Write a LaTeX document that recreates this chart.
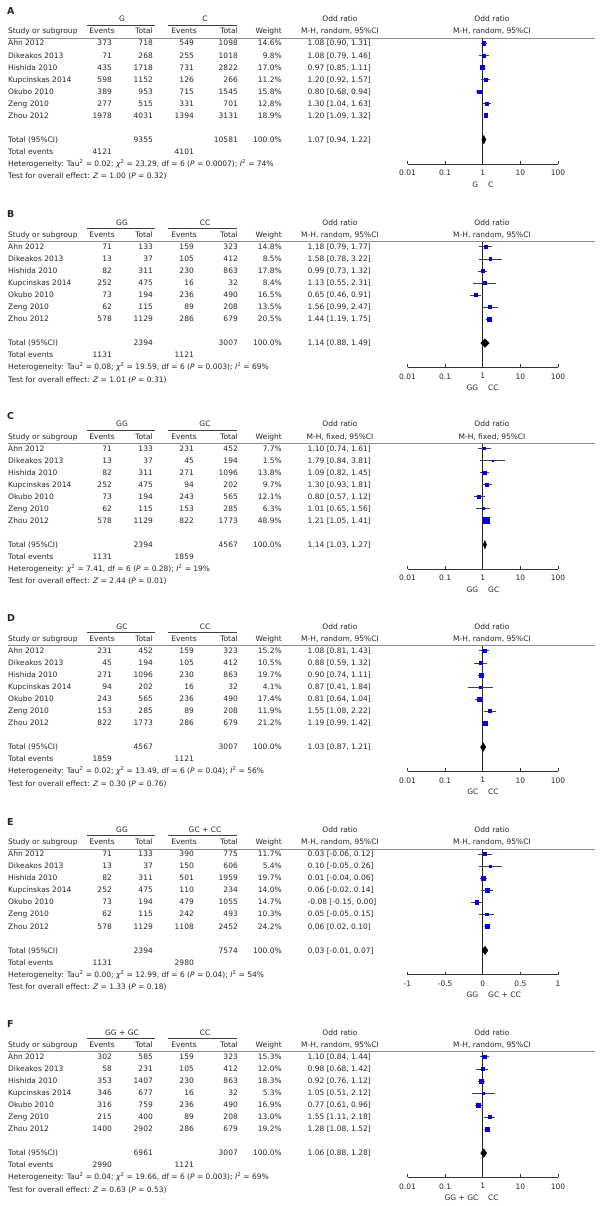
\documentclass[border=0pt]{standalone}
\usepackage{pgfplots}
\pgfplotsset{compat=1.18}
\usepackage{pgfplotstable}
\usepackage{fontspec}
\setmainfont{DejaVu Sans}

\definecolor{sq}{HTML}{0000E6}
\definecolor{cil}{HTML}{404040}
\definecolor{hline}{HTML}{8C8C8C}
\newcommand\fs{\fontsize{7.5}{8}\selectfont}

\pgfplotstableread{
k or lo hi w
0 1.08 0.90 1.31 14.6
1 1.08 0.79 1.46 9.8
2 0.97 0.85 1.11 17.0
3 1.20 0.92 1.57 11.2
4 0.80 0.68 0.94 15.8
5 1.30 1.04 1.63 12.8
6 1.20 1.09 1.32 18.9
}\tabA
\pgfplotstableread{
k or lo hi w
0 1.18 0.79 1.77 14.8
1 1.58 0.78 3.22 8.5
2 0.99 0.73 1.32 17.8
3 1.13 0.55 2.31 8.4
4 0.65 0.46 0.91 16.5
5 1.56 0.99 2.47 13.5
6 1.44 1.19 1.75 20.5
}\tabB
\pgfplotstableread{
k or lo hi w
0 1.10 0.74 1.61 7.7
1 1.79 0.84 3.81 1.5
2 1.09 0.82 1.45 13.8
3 1.30 0.93 1.81 9.7
4 0.80 0.57 1.12 12.1
5 1.01 0.65 1.56 6.3
6 1.21 1.05 1.41 48.9
}\tabC
\pgfplotstableread{
k or lo hi w
0 1.08 0.81 1.43 15.2
1 0.88 0.59 1.32 10.5
2 0.90 0.74 1.11 19.7
3 0.87 0.41 1.84 4.1
4 0.81 0.64 1.04 17.4
5 1.55 1.08 2.22 11.9
6 1.19 0.99 1.42 21.2
}\tabD
\pgfplotstableread{
k or lo hi w
0 0.03 -0.06 0.12 11.7
1 0.10 -0.05 0.26 5.4
2 0.01 -0.04 0.06 19.7
3 0.06 -0.02 0.14 14.0
4 -0.08 -0.15 0.00 14.7
5 0.05 -0.05 0.15 10.3
6 0.06 0.02 0.10 24.2
}\tabE
\pgfplotstableread{
k or lo hi w
0 1.10 0.84 1.44 15.3
1 0.98 0.68 1.42 12.0
2 0.92 0.76 1.12 18.3
3 1.05 0.51 2.12 5.3
4 0.77 0.61 0.96 16.9
5 1.55 1.11 2.18 13.0
6 1.28 1.08 1.52 19.2
}\tabF

\pgfplotsset{
 fpbase/.style={
  anchor=south west, scale only axis, width=150.5pt, height=125.5pt,
  ymin=-10.02, ymax=0.4, axis x line*=bottom, axis y line=none,
  tick align=inside, major tick length=3pt, xminorticks=false,
  x axis line style={color=black!80, line width=0.6pt},
  every tick/.style={black!80, line width=0.6pt},
  xticklabel style={font=\fs, text=black!85, yshift=-2.5pt},
  clip=false,
 },
}

% #1 environment, #2 tick options, #3 reference x, #4 table, #5 CI coords, #6 diamond, #7 panel offset
\newcommand\fplot[7]{%
\pgfmathsetmacro\fpy{-(#7+164)}%
\begin{#1}[fpbase, #2, at={(407.5pt,\fpy pt)}]
 \addplot[black!85, line width=0.6pt] coordinates {(#3,0.4) (#3,-10.02)};
 \addplot[cil, line width=0.5pt, unbounded coords=jump] coordinates {#5};
 \addplot[only marks, mark=square*, scatter,
   scatter/use mapped color={draw=sq, fill=sq},
   visualization depends on={0.44*sqrt(\thisrow{w})\as\msz},
   scatter/@pre marker code/.append style={/tikz/mark size=\msz, /tikz/line width=0.1pt}]
   table[x=or, y expr=-\thisrow{k}] {#4};
 \addplot[fill=black, draw=black, line width=0.3pt] coordinates {#6};
\end{#1}}

\newcommand\panelhead[4]{%
 \node[T, anchor=west, font=\bfseries\fontsize{9.5}{10}\selectfont, text height=7pt] at (7,-11) {#1};
 \node[T] at (122,-19.2) {#2};
 \node[T] at (205,-19.2) {#3};
 \draw[black!75, line width=0.5pt] (87,-25)--(155,-25) (168,-25)--(237,-25);
 \node[T, anchor=west] at (8,-31.3) {Study or subgroup};
 \node[T, anchor=east] at (115,-31.3) {Events};
 \node[T, anchor=east] at (153,-31.3) {Total};
 \node[T, anchor=east] at (197,-31.3) {Events};
 \node[T, anchor=east] at (238,-31.3) {Total};
 \node[T, anchor=east] at (282,-31.3) {Weight};
 \node[T] at (340,-19.2) {Odd ratio};
 \node[T] at (340,-31.3) {M-H, #4, 95\%CI};
 \node[T] at (492,-19.2) {Odd ratio};
 \node[T] at (492,-31.3) {M-H, #4, 95\%CI};
 \draw[hline, line width=0.9pt] (8,-38.5)--(595,-38.5);
}

\newcommand\studyrows[1]{%
 \foreach \nm/\ea/\ta/\eb/\tb/\w/\ci [count=\k from 0] in {#1}{%
  \pgfmathsetmacro\yy{-(43.3+12.05*\k)}
  \node[T, anchor=west] at (8,\yy) {\nm};
  \node[T, anchor=east] at (112,\yy) {\ea};
  \node[T, anchor=east] at (153,\yy) {\ta};
  \node[T, anchor=east] at (194,\yy) {\eb};
  \node[T, anchor=east] at (238,\yy) {\tb};
  \node[T, anchor=east] at (282,\yy) {\w\%};
  \node[T, anchor=west] at (307.5,\yy) {\ci};
 }}

\newcommand\paneltot[7]{%
 \node[T, anchor=west] at (8,-139.7) {Total (95\%CI)};
 \node[T, anchor=east] at (153,-139.7) {#1};
 \node[T, anchor=east] at (238,-139.7) {#2};
 \node[T, anchor=east] at (282,-139.7) {100.0\%};
 \node[T, anchor=west] at (307.5,-139.7) {#3};
 \node[T, anchor=west] at (8,-151.8) {Total events};
 \node[T, anchor=east] at (112,-151.8) {#4};
 \node[T, anchor=east] at (194,-151.8) {#5};
 \node[T, anchor=west] at (8,-163.8) {#6};
 \node[T, anchor=west] at (8,-175.9) {#7};
}
\newcommand\favours[2]{%
 \node[T, anchor=east] at (478.5,-184.5) {#1};
 \node[T, anchor=west] at (488,-184.5) {#2};
}
\newcommand\chisq{{\itshape χ}\textsuperscript{2}}
\newcommand\Isq{{\itshape I}\textsuperscript{2}}
\newcommand\Pv{{\itshape P}}
\newcommand\Zv{{\itshape Z}}

\begin{document}
\begin{tikzpicture}[x=1pt,y=1pt,
  T/.style={font=\fs, inner sep=0pt, text=black!85, text height=5.4pt, text depth=0pt}]
\fill[white] (0,0) rectangle (600,-1206);
\useasboundingbox (0,0) rectangle (600,-1206);

% ---------------- A
\begin{scope}[yshift=0pt]
\panelhead{A}{G}{C}{random}
\studyrows{Ahn 2012/373/718/549/1098/14.6/{1.08 [0.90, 1.31]},
 Dikeakos 2013/71/268/255/1018/9.8/{1.08 [0.79, 1.46]},
 Hishida 2010/435/1718/731/2822/17.0/{0.97 [0.85, 1.11]},
 Kupcinskas 2014/598/1152/126/266/11.2/{1.20 [0.92, 1.57]},
 Okubo 2010/389/953/715/1545/15.8/{0.80 [0.68, 0.94]},
 Zeng 2010/277/515/331/701/12.8/{1.30 [1.04, 1.63]},
 Zhou 2012/1978/4031/1394/3131/18.9/{1.20 [1.09, 1.32]}}
\paneltot{9355}{10581}{1.07 [0.94, 1.22]}{4121}{4101}
 {Heterogeneity: Tau\textsuperscript{2} = 0.02; \chisq{} = 23.29, df = 6 (\Pv{} = 0.0007); \Isq{} = 74\%}
 {Test for overall effect: \Zv{} = 1.00 (\Pv{} = 0.32)}
\favours{G}{C}
\end{scope}
\fplot{semilogxaxis}{xmin=0.01, xmax=100, xtick={0.01,0.1,1,10,100}, xticklabels={0.01,0.1,1,10,100}}{1}{\tabA}{(0.90,0)(1.31,0)(nan,nan)(0.79,-1)(1.46,-1)(nan,nan)(0.85,-2)(1.11,-2)(nan,nan)(0.92,-3)(1.57,-3)(nan,nan)(0.68,-4)(0.94,-4)(nan,nan)(1.04,-5)(1.63,-5)(nan,nan)(1.09,-6)(1.32,-6)}{(0.94,-8)(1.07,-7.64)(1.22,-8)(1.07,-8.36)(0.94,-8)}{0}

% ---------------- B
\begin{scope}[yshift=-203.4pt]
\panelhead{B}{GG}{CC}{random}
\studyrows{Ahn 2012/71/133/159/323/14.8/{1.18 [0.79, 1.77]},
 Dikeakos 2013/13/37/105/412/8.5/{1.58 [0.78, 3.22]},
 Hishida 2010/82/311/230/863/17.8/{0.99 [0.73, 1.32]},
 Kupcinskas 2014/252/475/16/32/8.4/{1.13 [0.55, 2.31]},
 Okubo 2010/73/194/236/490/16.5/{0.65 [0.46, 0.91]},
 Zeng 2010/62/115/89/208/13.5/{1.56 [0.99, 2.47]},
 Zhou 2012/578/1129/286/679/20.5/{1.44 [1.19, 1.75]}}
\paneltot{2394}{3007}{1.14 [0.88, 1.49]}{1131}{1121}
 {Heterogeneity: Tau\textsuperscript{2} = 0.08; \chisq{} = 19.59, df = 6 (\Pv{} = 0.003); \Isq{} = 69\%}
 {Test for overall effect: \Zv{} = 1.01 (\Pv{} = 0.31)}
\favours{GG}{CC}
\end{scope}
\fplot{semilogxaxis}{xmin=0.01, xmax=100, xtick={0.01,0.1,1,10,100}, xticklabels={0.01,0.1,1,10,100}}{1}{\tabB}{(0.79,0)(1.77,0)(nan,nan)(0.78,-1)(3.22,-1)(nan,nan)(0.73,-2)(1.32,-2)(nan,nan)(0.55,-3)(2.31,-3)(nan,nan)(0.46,-4)(0.91,-4)(nan,nan)(0.99,-5)(2.47,-5)(nan,nan)(1.19,-6)(1.75,-6)}{(0.88,-8)(1.14,-7.64)(1.49,-8)(1.14,-8.36)(0.88,-8)}{203.4}

% ---------------- C
\begin{scope}[yshift=-405pt]
\panelhead{C}{GG}{GC}{fixed}
\studyrows{Ahn 2012/71/133/231/452/7.7/{1.10 [0.74, 1.61]},
 Dikeakos 2013/13/37/45/194/1.5/{1.79 [0.84, 3.81]},
 Hishida 2010/82/311/271/1096/13.8/{1.09 [0.82, 1.45]},
 Kupcinskas 2014/252/475/94/202/9.7/{1.30 [0.93, 1.81]},
 Okubo 2010/73/194/243/565/12.1/{0.80 [0.57, 1.12]},
 Zeng 2010/62/115/153/285/6.3/{1.01 [0.65, 1.56]},
 Zhou 2012/578/1129/822/1773/48.9/{1.21 [1.05, 1.41]}}
\paneltot{2394}{4567}{1.14 [1.03, 1.27]}{1131}{1859}
 {Heterogeneity: \chisq{} = 7.41, df = 6 (\Pv{} = 0.28); \Isq{} = 19\%}
 {Test for overall effect: \Zv{} = 2.44 (\Pv{} = 0.01)}
\favours{GG}{GC}
\end{scope}
\fplot{semilogxaxis}{xmin=0.01, xmax=100, xtick={0.01,0.1,1,10,100}, xticklabels={0.01,0.1,1,10,100}}{1}{\tabC}{(0.74,0)(1.61,0)(nan,nan)(0.84,-1)(3.81,-1)(nan,nan)(0.82,-2)(1.45,-2)(nan,nan)(0.93,-3)(1.81,-3)(nan,nan)(0.57,-4)(1.12,-4)(nan,nan)(0.65,-5)(1.56,-5)(nan,nan)(1.05,-6)(1.41,-6)}{(1.03,-8)(1.14,-7.64)(1.27,-8)(1.14,-8.36)(1.03,-8)}{405}

% ---------------- D
\begin{scope}[yshift=-607.4pt]
\panelhead{D}{GC}{CC}{random}
\studyrows{Ahn 2012/231/452/159/323/15.2/{1.08 [0.81, 1.43]},
 Dikeakos 2013/45/194/105/412/10.5/{0.88 [0.59, 1.32]},
 Hishida 2010/271/1096/230/863/19.7/{0.90 [0.74, 1.11]},
 Kupcinskas 2014/94/202/16/32/4.1/{0.87 [0.41, 1.84]},
 Okubo 2010/243/565/236/490/17.4/{0.81 [0.64, 1.04]},
 Zeng 2010/153/285/89/208/11.9/{1.55 [1.08, 2.22]},
 Zhou 2012/822/1773/286/679/21.2/{1.19 [0.99, 1.42]}}
\paneltot{4567}{3007}{1.03 [0.87, 1.21]}{1859}{1121}
 {Heterogeneity: Tau\textsuperscript{2} = 0.02; \chisq{} = 13.49, df = 6 (\Pv{} = 0.04); \Isq{} = 56\%}
 {Test for overall effect: \Zv{} = 0.30 (\Pv{} = 0.76)}
\favours{GC}{CC}
\end{scope}
\fplot{semilogxaxis}{xmin=0.01, xmax=100, xtick={0.01,0.1,1,10,100}, xticklabels={0.01,0.1,1,10,100}}{1}{\tabD}{(0.81,0)(1.43,0)(nan,nan)(0.59,-1)(1.32,-1)(nan,nan)(0.74,-2)(1.11,-2)(nan,nan)(0.41,-3)(1.84,-3)(nan,nan)(0.64,-4)(1.04,-4)(nan,nan)(1.08,-5)(2.22,-5)(nan,nan)(0.99,-6)(1.42,-6)}{(0.87,-8)(1.03,-7.64)(1.21,-8)(1.03,-8.36)(0.87,-8)}{607.4}

% ---------------- E
\begin{scope}[yshift=-810.7pt]
\panelhead{E}{GG}{GC + CC}{random}
\studyrows{Ahn 2012/71/133/390/775/11.7/{0.03 [-0.06, 0.12]},
 Dikeakos 2013/13/37/150/606/5.4/{0.10 [-0.05, 0.26]},
 Hishida 2010/82/311/501/1959/19.7/{0.01 [-0.04, 0.06]},
 Kupcinskas 2014/252/475/110/234/14.0/{0.06 [-0.02, 0.14]},
 Okubo 2010/73/194/479/1055/14.7/{-0.08 [-0.15, 0.00]},
 Zeng 2010/62/115/242/493/10.3/{0.05 [-0.05, 0.15]},
 Zhou 2012/578/1129/1108/2452/24.2/{0.06 [0.02, 0.10]}}
\paneltot{2394}{7574}{0.03 [-0.01, 0.07]}{1131}{2980}
 {Heterogeneity: Tau\textsuperscript{2} = 0.00; \chisq{} = 12.99, df = 6 (\Pv{} = 0.04); \Isq{} = 54\%}
 {Test for overall effect: \Zv{} = 1.33 (\Pv{} = 0.18)}
\favours{GG}{GC + CC}
\end{scope}
\fplot{axis}{xmin=-1, xmax=1, xtick={-1,-0.5,0,0.5,1}, xticklabels={-1,-0.5,0,0.5,1}}{0}{\tabE}{(-0.06,0)(0.12,0)(nan,nan)(-0.05,-1)(0.26,-1)(nan,nan)(-0.04,-2)(0.06,-2)(nan,nan)(-0.02,-3)(0.14,-3)(nan,nan)(-0.15,-4)(0.00,-4)(nan,nan)(-0.05,-5)(0.15,-5)(nan,nan)(0.02,-6)(0.10,-6)}{(-0.01,-8)(0.03,-7.64)(0.07,-8)(0.03,-8.36)(-0.01,-8)}{810.7}

% ---------------- F
\begin{scope}[yshift=-1013.4pt]
\panelhead{F}{GG + GC}{CC}{random}
\studyrows{Ahn 2012/302/585/159/323/15.3/{1.10 [0.84, 1.44]},
 Dikeakos 2013/58/231/105/412/12.0/{0.98 [0.68, 1.42]},
 Hishida 2010/353/1407/230/863/18.3/{0.92 [0.76, 1.12]},
 Kupcinskas 2014/346/677/16/32/5.3/{1.05 [0.51, 2.12]},
 Okubo 2010/316/759/236/490/16.9/{0.77 [0.61, 0.96]},
 Zeng 2010/215/400/89/208/13.0/{1.55 [1.11, 2.18]},
 Zhou 2012/1400/2902/286/679/19.2/{1.28 [1.08, 1.52]}}
\paneltot{6961}{3007}{1.06 [0.88, 1.28]}{2990}{1121}
 {Heterogeneity: Tau\textsuperscript{2} = 0.04; \chisq{} = 19.66, df = 6 (\Pv{} = 0.003); \Isq{} = 69\%}
 {Test for overall effect: \Zv{} = 0.63 (\Pv{} = 0.53)}
\favours{GG + GC}{CC}
\end{scope}
\fplot{semilogxaxis}{xmin=0.01, xmax=100, xtick={0.01,0.1,1,10,100}, xticklabels={0.01,0.1,1,10,100}}{1}{\tabF}{(0.84,0)(1.44,0)(nan,nan)(0.68,-1)(1.42,-1)(nan,nan)(0.76,-2)(1.12,-2)(nan,nan)(0.51,-3)(2.12,-3)(nan,nan)(0.61,-4)(0.96,-4)(nan,nan)(1.11,-5)(2.18,-5)(nan,nan)(1.08,-6)(1.52,-6)}{(0.88,-8)(1.06,-7.64)(1.28,-8)(1.06,-8.36)(0.88,-8)}{1013.4}
\end{tikzpicture}
\end{document}
